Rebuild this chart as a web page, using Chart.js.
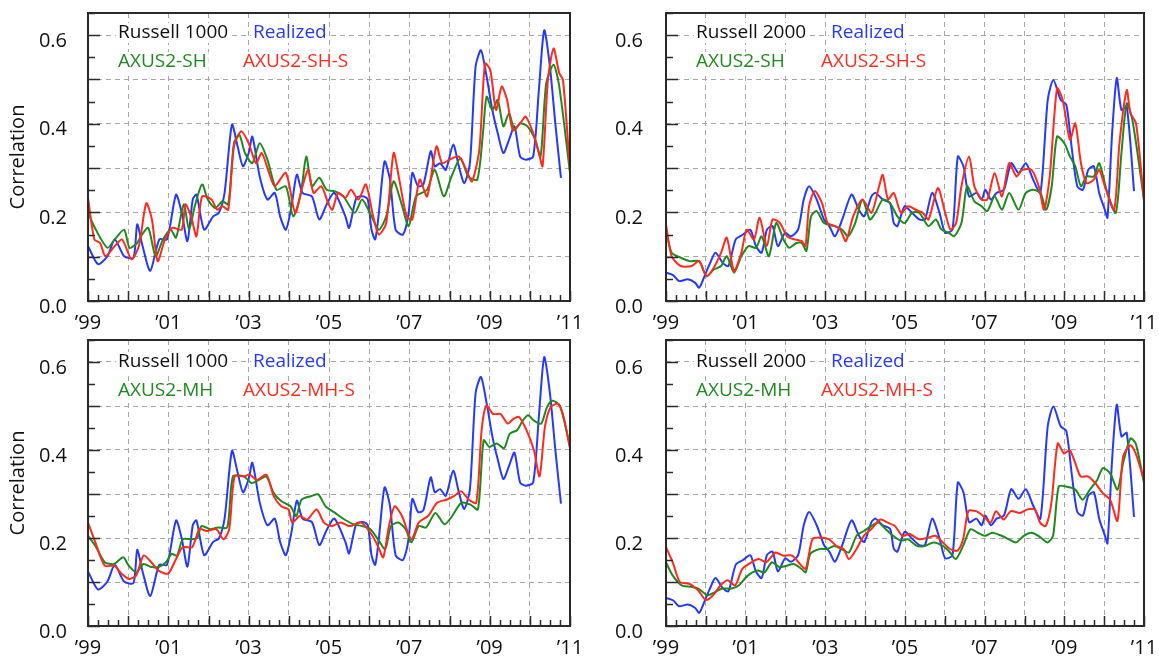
<!DOCTYPE html>
<html>
<head>
<meta charset="utf-8">
<script src="https://cdn.jsdelivr.net/npm/chart.js@4.4.1/dist/chart.umd.min.js"></script>
<style>
  html, body { margin: 0; padding: 0; background: #fff; }
  body { width: 1159px; height: 658px; position: relative; overflow: hidden; }
  canvas { position: absolute; }
</style>
</head>
<body>
<canvas id="c1" width="580" height="330" style="left:0;top:0"></canvas>
<canvas id="c2" width="579" height="330" style="left:580px;top:0"></canvas>
<canvas id="c3" width="580" height="328" style="left:0;top:330px"></canvas>
<canvas id="c4" width="579" height="328" style="left:580px;top:330px"></canvas>
<script>
// x values are months since Jan 1999 (0 = '99, 144 = '11)

// Russell 1000 realized correlation
const r1000RealMonths = [0, 3, 5.8, 8, 10.8, 13.6, 14.7, 16.3, 18.6, 21.3, 23.6, 26.3, 28, 29.7, 31.3, 32.4, 34.7, 37.4, 39.1, 40.8, 43, 44.7, 46.3, 48, 49.1, 51.3, 53.6, 55.8, 57.4, 59.1, 60.8, 62.4, 64.1, 66.9, 69.1, 71.3, 73.6, 76.9, 78, 80.2, 82.4, 83.6, 84.7, 85.8, 86.9, 88.6, 90.2, 91.9, 94.1, 95.8, 96.9, 98.6, 100.2, 102.4, 103.6, 105.2, 106.9, 109.1, 110.8, 112.4, 114.1, 115.8, 117.4, 119.1, 120.8, 122.4, 124.1, 125.8, 127.4, 129.1, 130.8, 133, 134.7, 136.3, 138, 139.7, 141.3];
const r1000RealVals = [0.124, 0.083, 0.101, 0.139, 0.101, 0.098, 0.173, 0.124, 0.068, 0.139, 0.139, 0.24, 0.199, 0.135, 0.229, 0.24, 0.161, 0.191, 0.199, 0.244, 0.398, 0.349, 0.304, 0.334, 0.371, 0.281, 0.229, 0.244, 0.191, 0.161, 0.214, 0.285, 0.244, 0.236, 0.184, 0.218, 0.244, 0.191, 0.165, 0.233, 0.236, 0.229, 0.161, 0.139, 0.199, 0.315, 0.274, 0.161, 0.15, 0.199, 0.289, 0.259, 0.263, 0.338, 0.304, 0.311, 0.296, 0.353, 0.304, 0.266, 0.311, 0.529, 0.566, 0.506, 0.431, 0.379, 0.334, 0.364, 0.394, 0.326, 0.319, 0.326, 0.476, 0.611, 0.529, 0.394, 0.278];

// Russell 1000, AXUS2-SH
const r1000ShMonths = [0, 2.4, 5.8, 8, 10.8, 12.4, 14.7, 15.8, 18, 20.2, 22.4, 24.7, 26.3, 28.6, 30.2, 31.9, 34.1, 35.8, 38, 40.2, 41.9, 43.6, 45.2, 46.9, 49.1, 51.3, 53.6, 56.3, 59.1, 61.3, 63.6, 65.2, 66.9, 69.1, 71.3, 73.6, 76.3, 79.7, 81.9, 84.7, 86.9, 89.1, 91.3, 93.6, 95.8, 98, 101.3, 103.6, 106.3, 108.6, 111.3, 113.6, 116.3, 118, 119.1, 120.8, 122.4, 124.1, 125.8, 127.4, 129.1, 131.3, 133.6, 135.2, 136.9, 139.1, 140.8, 144];
const r1000ShVals = [0.199, 0.16, 0.12, 0.139, 0.161, 0.12, 0.131, 0.146, 0.165, 0.101, 0.139, 0.161, 0.143, 0.218, 0.161, 0.214, 0.263, 0.229, 0.21, 0.225, 0.218, 0.356, 0.375, 0.334, 0.311, 0.356, 0.319, 0.251, 0.259, 0.191, 0.244, 0.326, 0.259, 0.278, 0.251, 0.248, 0.236, 0.199, 0.229, 0.191, 0.161, 0.191, 0.27, 0.221, 0.169, 0.236, 0.251, 0.296, 0.236, 0.281, 0.323, 0.281, 0.274, 0.379, 0.461, 0.431, 0.454, 0.394, 0.424, 0.386, 0.401, 0.394, 0.364, 0.326, 0.491, 0.533, 0.484, 0.289];

// Russell 1000, AXUS2-SH-S
const r1000ShsMonths = [0, 1.9, 3.6, 5.2, 8, 10.2, 13, 15.2, 17.4, 19.1, 20.8, 23, 25.2, 28, 29.1, 30.8, 32.4, 34.1, 36.9, 38.6, 40.2, 41.9, 43.6, 45.8, 48, 50.2, 51.9, 54.1, 55.8, 59.1, 61.9, 64.1, 65.8, 67.4, 69.7, 71.9, 73, 74.7, 76.9, 78.6, 80.8, 83, 85.2, 86.9, 89.1, 91.3, 93, 95.2, 96.9, 99.1, 101.3, 104.1, 105.8, 108, 110.8, 113, 114.7, 116.9, 118.6, 120.2, 121.9, 123.6, 125.2, 126.9, 129.1, 130.8, 133, 134.7, 135.8, 137.4, 139.1, 140.8, 141.9, 144];
const r1000ShsVals = [0.233, 0.139, 0.131, 0.101, 0.124, 0.139, 0.094, 0.124, 0.221, 0.184, 0.09, 0.139, 0.165, 0.161, 0.218, 0.191, 0.146, 0.236, 0.229, 0.206, 0.214, 0.206, 0.349, 0.383, 0.356, 0.311, 0.334, 0.289, 0.259, 0.289, 0.199, 0.259, 0.296, 0.244, 0.259, 0.218, 0.206, 0.244, 0.233, 0.251, 0.229, 0.263, 0.191, 0.15, 0.176, 0.334, 0.274, 0.191, 0.184, 0.274, 0.236, 0.349, 0.311, 0.319, 0.326, 0.296, 0.27, 0.341, 0.536, 0.521, 0.431, 0.484, 0.454, 0.386, 0.401, 0.416, 0.379, 0.334, 0.304, 0.499, 0.57, 0.514, 0.499, 0.296];

// Russell 1000, AXUS2-MH
const r1000MhMonths = [0, 2.2, 5, 7.8, 10.5, 12.2, 14.4, 16.6, 18.9, 21.1, 23.3, 25, 26.6, 28.3, 31.1, 32.7, 33.9, 36.6, 38.8, 41.6, 43.3, 46.6, 48.8, 51.1, 53.3, 55.5, 57.7, 60.5, 62.2, 63.8, 66.6, 68.8, 71, 73.8, 76.6, 79.4, 82.1, 84.4, 86.6, 88.8, 90.5, 92.7, 94.9, 96.6, 98.8, 101, 103.8, 106.5, 108.8, 111.5, 114.3, 116.5, 118.2, 119.9, 122.1, 124.3, 126, 128.2, 129.9, 131.5, 133.2, 135.4, 137.1, 138.7, 141, 144];
const r1000MhVals = [0.205, 0.182, 0.145, 0.141, 0.156, 0.137, 0.122, 0.141, 0.134, 0.134, 0.145, 0.164, 0.16, 0.197, 0.197, 0.201, 0.227, 0.22, 0.224, 0.224, 0.34, 0.34, 0.325, 0.332, 0.34, 0.302, 0.284, 0.272, 0.25, 0.287, 0.295, 0.299, 0.272, 0.257, 0.242, 0.231, 0.227, 0.22, 0.197, 0.175, 0.227, 0.235, 0.22, 0.19, 0.227, 0.224, 0.257, 0.231, 0.25, 0.28, 0.276, 0.265, 0.422, 0.407, 0.415, 0.404, 0.437, 0.445, 0.467, 0.479, 0.467, 0.46, 0.497, 0.512, 0.501, 0.407];

// Russell 1000, AXUS2-MH-S
const r1000MhsMonths = [0, 2.2, 5, 7.8, 10, 12.2, 14.4, 16.6, 18.9, 21.1, 23.9, 26.1, 28.3, 31.1, 33.3, 35.5, 38.3, 40.5, 42.2, 43.8, 46.6, 48.3, 50.5, 53.3, 55.5, 57.7, 59.9, 61, 63.3, 65.5, 68.3, 70.5, 72.7, 75.5, 78.2, 81.6, 84.4, 86.6, 88.2, 89.9, 91.6, 93.8, 96.6, 98.8, 101.6, 104.3, 107.1, 109.3, 111.5, 113.8, 116, 117.6, 119, 121, 123.2, 125.4, 127.1, 128.8, 131, 133.2, 134.9, 136.5, 138.2, 140.4, 142.1, 144];
const r1000MhsVals = [0.235, 0.19, 0.137, 0.137, 0.119, 0.107, 0.115, 0.16, 0.145, 0.126, 0.119, 0.149, 0.179, 0.179, 0.22, 0.216, 0.22, 0.197, 0.22, 0.34, 0.34, 0.344, 0.332, 0.344, 0.295, 0.272, 0.265, 0.235, 0.25, 0.242, 0.265, 0.235, 0.227, 0.235, 0.227, 0.235, 0.212, 0.182, 0.156, 0.227, 0.272, 0.25, 0.197, 0.235, 0.25, 0.28, 0.287, 0.295, 0.306, 0.287, 0.28, 0.445, 0.501, 0.482, 0.482, 0.46, 0.471, 0.475, 0.445, 0.4, 0.34, 0.452, 0.497, 0.505, 0.475, 0.404];

// Russell 2000 realized correlation
const r2000RealMonths = [0, 2.2, 3.9, 6.6, 8.8, 10, 11.6, 13.3, 14.9, 17.1, 18.8, 21, 23.2, 25.4, 27.1, 28.8, 30.4, 32.1, 33.7, 35.9, 37.6, 39.8, 41.5, 43.1, 45.4, 47.6, 49.2, 50.9, 53.1, 55.9, 58.1, 59.7, 61.9, 63.1, 65.3, 67.5, 68.6, 69.7, 71.9, 74.1, 76.3, 78, 80.2, 82.4, 84.1, 86.3, 87.9, 89.6, 91.3, 93.5, 95.1, 96.2, 97.9, 99.6, 101.8, 104, 106.2, 108.4, 110.6, 112.8, 115, 116.7, 118.9, 120.6, 122.3, 123.9, 125.6, 127.2, 128.9, 130.5, 132.2, 133, 134.4, 135.8, 137.2, 138.8, 141];
const r2000RealVals = [0.064, 0.058, 0.045, 0.049, 0.041, 0.03, 0.056, 0.086, 0.109, 0.086, 0.079, 0.139, 0.15, 0.161, 0.124, 0.109, 0.161, 0.169, 0.124, 0.154, 0.146, 0.161, 0.229, 0.259, 0.229, 0.184, 0.169, 0.146, 0.184, 0.24, 0.206, 0.191, 0.236, 0.244, 0.229, 0.221, 0.176, 0.169, 0.214, 0.199, 0.184, 0.184, 0.244, 0.199, 0.154, 0.161, 0.326, 0.304, 0.236, 0.244, 0.229, 0.251, 0.229, 0.244, 0.251, 0.311, 0.289, 0.311, 0.274, 0.244, 0.454, 0.499, 0.454, 0.443, 0.341, 0.259, 0.251, 0.296, 0.304, 0.244, 0.206, 0.188, 0.379, 0.503, 0.431, 0.439, 0.248];

// Russell 2000, AXUS2-SH
const r2000ShMonths = [0, 1.7, 4.4, 7.2, 10, 12.2, 14.4, 16.6, 18.3, 20.5, 22.7, 24.9, 27.1, 28.8, 31, 33.2, 35.4, 37.1, 39.3, 40.9, 42.3, 43.7, 45.4, 47.6, 50.9, 53.1, 54.8, 57, 59.2, 61.4, 63.1, 65.3, 67.5, 69.7, 71.9, 74.1, 76.3, 79.1, 81.3, 83, 85.2, 86.8, 89, 90.7, 92.9, 95.1, 96.8, 99, 101.2, 103.4, 106.2, 108.4, 110.6, 112.8, 114.5, 116.2, 117.8, 120, 121.7, 123.3, 125, 126.7, 128.9, 130.5, 132.7, 135.5, 137.2, 138.8, 140.5, 144];
const r2000ShVals = [0.161, 0.109, 0.098, 0.09, 0.09, 0.056, 0.071, 0.079, 0.101, 0.064, 0.101, 0.124, 0.12, 0.146, 0.101, 0.176, 0.139, 0.12, 0.131, 0.131, 0.113, 0.191, 0.203, 0.176, 0.169, 0.161, 0.146, 0.176, 0.229, 0.184, 0.199, 0.229, 0.221, 0.191, 0.176, 0.199, 0.199, 0.169, 0.184, 0.161, 0.154, 0.146, 0.176, 0.259, 0.225, 0.214, 0.203, 0.236, 0.206, 0.244, 0.206, 0.244, 0.251, 0.244, 0.206, 0.259, 0.371, 0.356, 0.326, 0.304, 0.259, 0.281, 0.281, 0.311, 0.251, 0.199, 0.334, 0.446, 0.409, 0.229];

// Russell 2000, AXUS2-SH-S
const r2000ShsMonths = [0, 1.7, 4.4, 7.7, 10, 12.2, 14.4, 16.6, 18.3, 20.5, 22.7, 24.3, 26.5, 28.2, 30.4, 32.1, 34.3, 36.5, 38.7, 40.9, 42, 43.1, 44.8, 47, 48.7, 50.9, 52.5, 54.2, 56.4, 59.2, 61.9, 64.2, 65.3, 66.9, 68.6, 70.8, 73, 75.2, 77.4, 79.1, 81.9, 84.1, 85.7, 87.4, 89, 91.3, 92.9, 95.1, 96.8, 99, 101.2, 103.4, 105.6, 107.3, 110.1, 112.3, 113.9, 115.6, 117.8, 119.5, 121.7, 123.3, 125, 126.7, 128.9, 130.5, 132.2, 135, 136.6, 138.8, 139.9, 141.6, 144];
const r2000ShsVals = [0.173, 0.101, 0.079, 0.079, 0.09, 0.056, 0.075, 0.109, 0.143, 0.068, 0.109, 0.161, 0.139, 0.188, 0.124, 0.184, 0.176, 0.146, 0.139, 0.135, 0.124, 0.214, 0.248, 0.221, 0.176, 0.169, 0.161, 0.135, 0.191, 0.229, 0.199, 0.259, 0.285, 0.229, 0.244, 0.199, 0.214, 0.206, 0.199, 0.184, 0.255, 0.199, 0.161, 0.176, 0.259, 0.326, 0.259, 0.229, 0.229, 0.289, 0.236, 0.311, 0.281, 0.296, 0.296, 0.259, 0.206, 0.281, 0.48, 0.454, 0.364, 0.401, 0.311, 0.266, 0.274, 0.296, 0.259, 0.206, 0.356, 0.476, 0.424, 0.401, 0.225];

// Russell 2000, AXUS2-MH
const r2000MhMonths = [0, 2, 4.8, 7.5, 9.7, 12.5, 14.7, 16.9, 19.7, 21.9, 24.7, 27.5, 29.7, 31.9, 34.1, 36.3, 38.5, 40.8, 42.1, 43.5, 46.3, 48.5, 50.7, 52.9, 55.1, 57.4, 59.6, 61.8, 64, 66.2, 68.4, 70.7, 72.9, 75.6, 77.9, 80.6, 83.4, 85.6, 87.3, 89.5, 91.7, 93.9, 96.1, 98.3, 101.1, 103.3, 105.5, 107.8, 110, 112.2, 114.9, 116.6, 118.3, 120.5, 123.3, 125.5, 127.7, 129.9, 131.6, 133.8, 136, 137.7, 139.9, 141.5, 144];
const r2000MhVals = [0.145, 0.115, 0.092, 0.089, 0.085, 0.07, 0.077, 0.085, 0.085, 0.092, 0.115, 0.126, 0.122, 0.145, 0.134, 0.137, 0.141, 0.13, 0.122, 0.164, 0.175, 0.175, 0.182, 0.175, 0.167, 0.205, 0.216, 0.227, 0.235, 0.22, 0.205, 0.194, 0.197, 0.182, 0.182, 0.19, 0.182, 0.167, 0.152, 0.182, 0.22, 0.212, 0.205, 0.212, 0.205, 0.197, 0.19, 0.205, 0.212, 0.205, 0.19, 0.205, 0.317, 0.317, 0.31, 0.287, 0.31, 0.332, 0.359, 0.347, 0.31, 0.37, 0.426, 0.415, 0.325];

// Russell 2000, AXUS2-MH-S
const r2000MhsMonths = [0, 2, 4.2, 7, 9.7, 12, 14.2, 16.4, 18.6, 20.8, 23, 25.8, 28, 30.2, 33, 35.2, 38, 40.8, 42.1, 44.1, 46.3, 49.1, 51.3, 53.5, 55.1, 57.4, 59.6, 61.8, 64.6, 66.8, 69, 71.2, 73.4, 76.2, 79, 81.2, 83.4, 85.6, 87.8, 89.5, 91.1, 93.4, 95.6, 97.8, 99.4, 101.7, 103.9, 106.6, 108.9, 111.1, 112.7, 114.4, 116.1, 118, 119.9, 121.6, 123.3, 124.9, 127.1, 129.3, 131.6, 133.8, 136, 137.7, 139.9, 141.5, 144];
const r2000MhsVals = [0.179, 0.145, 0.1, 0.096, 0.081, 0.059, 0.07, 0.092, 0.104, 0.092, 0.13, 0.145, 0.152, 0.145, 0.167, 0.16, 0.16, 0.137, 0.13, 0.197, 0.201, 0.197, 0.182, 0.175, 0.152, 0.175, 0.205, 0.22, 0.242, 0.235, 0.227, 0.205, 0.209, 0.197, 0.201, 0.205, 0.19, 0.175, 0.171, 0.197, 0.261, 0.261, 0.25, 0.235, 0.261, 0.242, 0.261, 0.257, 0.265, 0.265, 0.235, 0.227, 0.28, 0.415, 0.392, 0.4, 0.37, 0.34, 0.34, 0.325, 0.302, 0.287, 0.239, 0.385, 0.411, 0.392, 0.332];

const yearLabels = ['’99', '’01', '’03', '’05', '’07', '’09', '’11'];
const yLabels = ['0.0', '0.2', '0.4', '0.6'];

const BLUE = '#2339ff', GREEN = '#1e8a1e', RED = '#ff2a1c';
const FONT = '"Open Sans", "Liberation Sans", sans-serif';

function pts(xs, ys) {
  return xs.map((x, i) => ({ x: x, y: ys[i] }));
}

function line(label, xs, ys, color) {
  return {
    label: label,
    data: pts(xs, ys),
    borderColor: color,
    borderWidth: 2,
    pointRadius: 0,
    tension: 0.25,
    fill: false
  };
}

// inner tick marks, frame and in-plot labels
const frame = {
  id: 'frame',
  afterDatasetsDraw(chart, args, opts) {
    const { ctx, chartArea: a, scales: { x, y } } = chart;
    ctx.save();
    ctx.strokeStyle = '#2a2a2a';
    ctx.lineWidth = 1.5;
    ctx.beginPath();
    x.ticks.forEach(t => {
      const px = Math.round(x.getPixelForValue(t.value)) + 0.5;
      const len = t.value % 12 === 0 ? 10 : 6;
      ctx.moveTo(px, a.bottom);
      ctx.lineTo(px, a.bottom - len);
    });
    y.ticks.forEach(t => {
      const py = Math.round(y.getPixelForValue(t.value)) + 0.5;
      const len = Math.round(t.value * 100) % 10 === 0 ? 12 : 7;
      ctx.moveTo(a.left, py);
      ctx.lineTo(a.left + len, py);
    });
    ctx.stroke();
    ctx.lineWidth = 2;
    ctx.strokeRect(a.left, a.top, a.right - a.left, a.bottom - a.top);

    ctx.font = '19px ' + FONT;
    ctx.textBaseline = 'middle';
    (opts.notes || []).forEach(n => {
      const w = ctx.measureText(n.text).width;
      const tx = a.left + n.dx, ty = a.top + n.dy;
      ctx.fillStyle = '#fff';
      ctx.fillRect(tx - 2, ty - 10, w + 4, 20);
      ctx.fillStyle = n.color;
      ctx.fillText(n.text, tx, ty);
    });
    ctx.restore();
  }
};

function makePanel(id, index, model, sets, box) {
  const notes = [
    { text: index, color: '#111', dx: 30, dy: box.row1 },
    { text: 'Realized', color: BLUE, dx: 165, dy: box.row1 },
    { text: model, color: GREEN, dx: 30, dy: box.row2 },
    { text: model + '-S', color: RED, dx: 155, dy: box.row2 }
  ];
  return new Chart(document.getElementById(id), {
    type: 'line',
    data: { datasets: sets },
    plugins: [frame],
    options: {
      responsive: false,
      animation: false,
      layout: { padding: { top: box.top, right: box.right, left: 0, bottom: 0 } },
      plugins: {
        legend: { display: false },
        tooltip: { enabled: false },
        frame: { notes: notes }
      },
      scales: {
        x: {
          type: 'linear',
          min: 0,
          max: 144,
          afterBuildTicks: s => {
            const t = [];
            for (let m = 0; m <= 144; m += 3) t.push({ value: m });
            s.ticks = t;
          },
          afterFit: s => {
            s.height = box.xh;
            s.paddingLeft = 0;
            s.paddingRight = 0;
          },
          grid: {
            drawTicks: false,
            lineWidth: 1,
            color: c => (c.tick && c.tick.value % 12 === 0 && c.tick.value > 0 && c.tick.value < 144) ? '#a8a8a8' : 'rgba(0,0,0,0)'
          },
          border: { display: false, dash: [5, 4] },
          ticks: {
            autoSkip: false,
            maxRotation: 0,
            padding: 10,
            color: '#111',
            font: { family: FONT, size: 20 },
            callback: v => v % 24 === 0 ? yearLabels[v / 24] : ''
          }
        },
        y: {
          min: 0,
          max: 0.65,
          afterBuildTicks: s => {
            const t = [];
            for (let k = 0; k <= 13; k++) t.push({ value: k * 0.05 });
            s.ticks = t;
          },
          afterFit: s => {
            s.width = box.yw;
            s.paddingTop = 0;
            s.paddingBottom = 0;
          },
          grid: {
            drawTicks: false,
            lineWidth: 1,
            color: c => {
              const k = Math.round(c.tick.value * 100);
              return (k % 10 === 0 && k > 0 && k < 65) ? '#a8a8a8' : 'rgba(0,0,0,0)';
            }
          },
          border: { display: false, dash: [5, 4] },
          title: {
            display: box.title,
            text: 'Correlation',
            color: '#111',
            font: { family: FONT, size: 20 },
            padding: { top: 6, bottom: 0 }
          },
          ticks: {
            autoSkip: false,
            padding: box.lpad,
            labelOffset: 6,
            color: '#111',
            font: { family: FONT, size: 20 },
            callback: v => {
              const k = Math.round(v * 100);
              return k % 20 === 0 ? yLabels[k / 20] : '';
            }
          }
        }
      }
    }
  });
}

const topBox = { top: 13, xh: 29, row1: 20, row2: 49 };
const botBox = { top: 10, xh: 32, row1: 22, row2: 51 };

makePanel('c1', 'Russell 1000', 'AXUS2-SH', [
  line('AXUS2-SH-S', r1000ShsMonths, r1000ShsVals, RED),
  line('AXUS2-SH', r1000ShMonths, r1000ShVals, GREEN),
  line('Realized', r1000RealMonths, r1000RealVals, BLUE)
], Object.assign({ yw: 88, right: 10, lpad: 21, title: true }, topBox));

makePanel('c2', 'Russell 2000', 'AXUS2-SH', [
  line('AXUS2-SH-S', r2000ShsMonths, r2000ShsVals, RED),
  line('AXUS2-SH', r2000ShMonths, r2000ShVals, GREEN),
  line('Realized', r2000RealMonths, r2000RealVals, BLUE)
], Object.assign({ yw: 86, right: 15, lpad: 23, title: false }, topBox));

makePanel('c3', 'Russell 1000', 'AXUS2-MH', [
  line('AXUS2-MH-S', r1000MhsMonths, r1000MhsVals, RED),
  line('AXUS2-MH', r1000MhMonths, r1000MhVals, GREEN),
  line('Realized', r1000RealMonths, r1000RealVals, BLUE)
], Object.assign({ yw: 88, right: 10, lpad: 21, title: true }, botBox));

makePanel('c4', 'Russell 2000', 'AXUS2-MH', [
  line('AXUS2-MH-S', r2000MhsMonths, r2000MhsVals, RED),
  line('AXUS2-MH', r2000MhMonths, r2000MhVals, GREEN),
  line('Realized', r2000RealMonths, r2000RealVals, BLUE)
], Object.assign({ yw: 86, right: 15, lpad: 23, title: false }, botBox));
</script>
</body>
</html>
